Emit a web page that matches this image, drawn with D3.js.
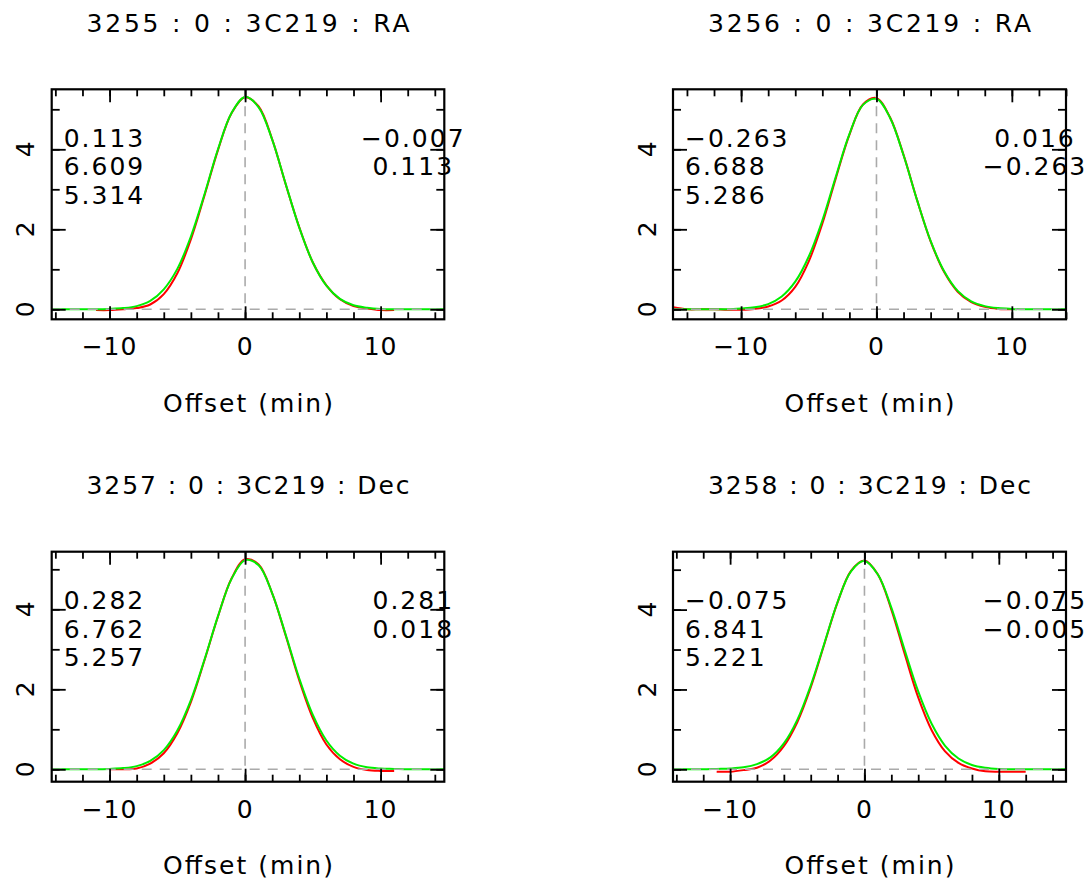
<!DOCTYPE html>
<html>
<head>
<meta charset="utf-8">
<script src="https://cdn.jsdelivr.net/npm/d3@7"></script>
<style>
  html, body { margin: 0; padding: 0; background: #ffffff; }
  svg { display: block; }
  text { font-family: "DejaVu Sans", sans-serif; fill: #000; }
</style>
</head>
<body>
<svg id="chart" width="1092" height="884"></svg>
<script>
// ---------------- data ----------------
const titles = [
  "3255 : 0 : 3C219 : RA",
  "3256 : 0 : 3C219 : RA",
  "3257 : 0 : 3C219 : Dec",
  "3258 : 0 : 3C219 : Dec"
];
const leftStats = [
  ["0.113", "6.609", "5.314"],
  ["\u22120.263", "6.688", "5.286"],
  ["0.282", "6.762", "5.257"],
  ["\u22120.075", "6.841", "5.221"]
];
const rightStats = [
  ["\u22120.007", "0.113"],
  ["0.016", "\u22120.263"],
  ["0.281", "0.018"],
  ["\u22120.075", "\u22120.005"]
];
const xLabel = "Offset (min)";

const offsets = [-15,-14,-13,-12,-11,-10,-9,-8,-7,-6,-5,-4,-3,-2,-1,0,1,2,3,4,5,6,7,8,9,10,11,12,13,14,15];

// fitted gaussian (green) per scan
const fit3255 = [0,0,0,0,0,0.01,0.03,0.08,0.21,0.50,1.01,1.82,2.87,4.00,4.91,5.31,5.05,4.24,3.13,2.04,1.17,0.59,0.26,0.10,0.04,0.01,0,0,0,0,0];
const fit3256 = [0,0,0,0,0,0.02,0.05,0.13,0.32,0.69,1.32,2.22,3.32,4.38,5.11,5.26,4.79,3.85,2.73,1.71,0.95,0.46,0.20,0.08,0.03,0.01,0,0,0,0,0];
const fit3257 = [0,0,0,0,0,0.01,0.03,0.08,0.21,0.48,0.97,1.73,2.74,3.83,4.76,5.23,5.10,4.40,3.36,2.27,1.36,0.72,0.34,0.14,0.05,0.02,0.01,0,0,0,0];
const fit3258 = [0,0,0,0,0.01,0.02,0.05,0.13,0.30,0.65,1.24,2.10,3.14,4.19,4.96,5.22,4.88,4.05,2.98,1.95,1.14,0.59,0.27,0.11,0.04,0.01,0,0,0,0,0];

// measured data (red) per scan, null = no sample
const data3255 = [null,null,null,null,-0.02,-0.02,0.00,0.03,0.12,0.38,0.90,1.75,2.84,3.98,4.90,5.30,5.07,4.25,3.12,2.05,1.17,0.60,0.25,0.08,0.02,-0.02,-0.02,null,null,null,null];
const data3256 = [0.05,0.00,0.00,0.00,-0.01,-0.01,0.01,0.07,0.22,0.56,1.20,2.14,3.28,4.36,5.12,5.28,4.80,3.86,2.73,1.70,0.93,0.44,0.18,0.06,0.01,0.00,null,null,null,null,null];
const data3257 = [null,null,null,null,null,0.00,0.00,0.02,0.14,0.40,0.90,1.68,2.72,3.82,4.77,5.25,5.12,4.40,3.34,2.22,1.28,0.62,0.25,0.06,-0.02,-0.04,-0.04,null,null,null,null];
const data3258 = [null,null,null,null,-0.06,-0.06,-0.02,0.04,0.22,0.58,1.18,2.05,3.12,4.18,4.97,5.23,4.88,4.00,2.88,1.80,0.98,0.45,0.16,0.02,-0.05,-0.06,-0.06,-0.06,null,null,null];

const fits = [fit3255, fit3256, fit3257, fit3258];
const datas = [data3255, data3256, data3257, data3258];

const xDomains = [[-14.27, 14.7], [-15.03, 14.0], [-14.27, 14.7], [-14.25, 15.0]];
const yDomains = [[-0.25, 5.5], [-0.25, 5.5], [-0.31, 5.44], [-0.31, 5.45]];

const xMinorTicks = [-14,-12,-10,-8,-6,-4,-2,0,2,4,6,8,10,12,14];
const xMajorTicks = [-10, 0, 10];
const yMinorTicks = [0,1,2,3,4,5];
const yMajorTicks = [0, 2, 4];

// ---------------- layout ----------------
const boxes = [
  {x0: 51.7, x1: 444.3, y0: 89.3, y1: 319.3},
  {x0: 673.0, x1: 1066.0, y0: 89.3, y1: 319.3},
  {x0: 51.7, x1: 444.3, y0: 551.7, y1: 781.7},
  {x0: 673.0, x1: 1066.0, y0: 551.7, y1: 781.7}
];
const FS = 25;

const svg = d3.select("#chart");

boxes.forEach((b, i) => {
  const x = d3.scaleLinear().domain(xDomains[i]).range([b.x0, b.x1]);
  const y = d3.scaleLinear().domain(yDomains[i]).range([b.y1, b.y0]);
  const g = svg.append("g");

  const clipId = "clip" + i;
  g.append("clipPath").attr("id", clipId)
    .append("rect").attr("x", b.x0).attr("y", b.y0)
    .attr("width", b.x1 - b.x0).attr("height", b.y1 - b.y0);

  const plot = g.append("g").attr("clip-path", `url(#${clipId})`);

  const pts = (arr) => offsets.map((o, k) => ({x: o, y: arr[k]}));
  const line = d3.line()
    .defined(d => d.y !== null)
    .x(d => x(d.x)).y(d => y(d.y))
    .curve(d3.curveCatmullRom.alpha(0.5));

  plot.append("path").datum(pts(datas[i]))
    .attr("d", line).attr("fill", "none")
    .attr("stroke", "#ff0000").attr("stroke-width", 2);
  plot.append("path").datum(pts(fits[i]))
    .attr("d", line).attr("fill", "none")
    .attr("stroke", "#00ee00").attr("stroke-width", 2);

  // dashed zero lines
  plot.append("line")
    .attr("x1", b.x0).attr("x2", b.x1)
    .attr("y1", y(0)).attr("y2", y(0))
    .attr("stroke", "#aaaaaa").attr("stroke-width", 1.6)
    .attr("stroke-dasharray", "10,8");
  plot.append("line")
    .attr("x1", x(0)).attr("x2", x(0))
    .attr("y1", b.y0).attr("y2", b.y1)
    .attr("stroke", "#aaaaaa").attr("stroke-width", 1.6)
    .attr("stroke-dasharray", "10,7");

  // ticks (inward) via d3 axes
  const mk = (axis, tr) => {
    const a = g.append("g").attr("transform", tr).call(axis);
    a.select(".domain").remove();
    a.selectAll("line").attr("stroke", "#000").attr("stroke-width", 1.8);
    a.selectAll("text").remove();
    return a;
  };
  mk(d3.axisBottom(x).tickValues(xMinorTicks).tickSizeInner(-7).tickSizeOuter(0), `translate(0,${b.y1})`);
  mk(d3.axisBottom(x).tickValues(xMajorTicks).tickSizeInner(-13).tickSizeOuter(0), `translate(0,${b.y1})`);
  mk(d3.axisTop(x).tickValues(xMinorTicks).tickSizeInner(-7).tickSizeOuter(0), `translate(0,${b.y0})`);
  mk(d3.axisTop(x).tickValues(xMajorTicks).tickSizeInner(-13).tickSizeOuter(0), `translate(0,${b.y0})`);
  mk(d3.axisLeft(y).tickValues(yMinorTicks).tickSizeInner(-8).tickSizeOuter(0), `translate(${b.x0},0)`);
  mk(d3.axisLeft(y).tickValues(yMajorTicks).tickSizeInner(-14).tickSizeOuter(0), `translate(${b.x0},0)`);
  mk(d3.axisRight(y).tickValues(yMinorTicks).tickSizeInner(-8).tickSizeOuter(0), `translate(${b.x1},0)`);
  mk(d3.axisRight(y).tickValues(yMajorTicks).tickSizeInner(-14).tickSizeOuter(0), `translate(${b.x1},0)`);

  // frame
  g.append("rect")
    .attr("x", b.x0).attr("y", b.y0)
    .attr("width", b.x1 - b.x0).attr("height", b.y1 - b.y0)
    .attr("fill", "none").attr("stroke", "#000").attr("stroke-width", 2.2);

  // x tick labels
  const fmt = d3.format("d");
  g.selectAll(".xl").data(xMajorTicks).enter().append("text")
    .attr("x", d => x(d)).attr("y", b.y1 + 36)
    .attr("text-anchor", "middle").attr("font-size", FS)
    .style("letter-spacing", "1px")
    .text(d => fmt(d));

  // y tick labels (rotated)
  g.selectAll(".yl").data(yMajorTicks).enter().append("text")
    .attr("transform", d => `translate(${b.x0 - 17.5},${y(d)}) rotate(-90)`)
    .attr("text-anchor", "middle").attr("font-size", FS)
    .text(d => fmt(d));

  // axis label
  g.append("text")
    .attr("x", (b.x0 + b.x1) / 2).attr("y", b.y1 + 92.5)
    .attr("text-anchor", "middle").attr("font-size", FS)
    .attr("textLength", 170).attr("lengthAdjust", "spacing")
    .text(xLabel);

  // title
  g.append("text")
    .attr("x", (b.x0 + b.x1) / 2).attr("y", b.y0 - 57.6)
    .attr("text-anchor", "middle").attr("font-size", FS)
    .attr("textLength", 323).attr("lengthAdjust", "spacing")
    .text(titles[i]);

  // stats
  const lineOffsets = [57.5, 85.8, 114.6];
  leftStats[i].forEach((s, k) => {
    g.append("text")
      .attr("x", b.x0 + 12).attr("y", b.y0 + lineOffsets[k])
      .attr("text-anchor", "start").attr("font-size", FS)
      .style("letter-spacing", "2px")
      .text(s);
  });
  rightStats[i].forEach((s, k) => {
    g.append("text")
      .attr("x", b.x1 - 31).attr("y", b.y0 + lineOffsets[k])
      .attr("text-anchor", "middle").attr("font-size", FS)
      .style("letter-spacing", "2px")
      .text(s);
  });
});
</script>
</body>
</html>
